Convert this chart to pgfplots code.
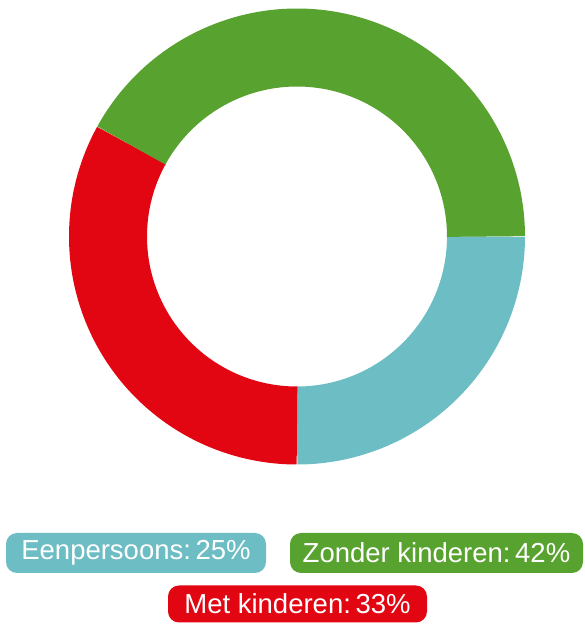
\documentclass[border=0pt]{standalone}
\usepackage{fontspec}
\setmainfont{Liberation Sans}
\usepackage{pgfplots}
\pgfplotsset{compat=1.18}
\usepgfplotslibrary{polar}
\definecolor{cEen}{HTML}{6DBDC4}
\definecolor{cZon}{HTML}{58A22F}
\definecolor{cMet}{HTML}{E20613}
\begin{document}
\begin{tikzpicture}[x=1pt,y=1pt]
\useasboundingbox (0,0) rectangle (585,625);
\begin{polaraxis}[
  hide axis, scale only axis, clip=false,
  width=456pt, height=456pt,
  xmin=0, xmax=360, ymin=0, ymax=228,
  at={(297pt,388.5pt)}, anchor=center,
]
% shares: Eenpersoons 25, Met kinderen 33, Zonder kinderen 42 (clockwise from 3 o'clock)
\addplot[cEen, line width=78pt, no marks, samples=181, domain=-90:0] ({x},189);
\addplot[cMet, line width=78pt, no marks, samples=181, domain=-208.8:-90] ({x},189);
\addplot[cZon, line width=78pt, no marks, samples=181, domain=-360:-208.8] ({x},189);
\end{polaraxis}
\tikzset{lg/.style={rounded corners=11pt, inner sep=0pt, text=white, font=\fontsize{27.5}{30}\selectfont, minimum height=40pt}}
\node[lg, fill=cEen, minimum width=260pt] at (136,72) {Eenpersoons:\,25\%};
\node[lg, fill=cZon, minimum width=293pt] at (436.5,72) {Zonder kinderen:\,42\%};
\node[lg, fill=cMet, minimum width=259pt, minimum height=37pt] at (297.5,21) {Met kinderen:\,33\%};
\end{tikzpicture}
\end{document}
